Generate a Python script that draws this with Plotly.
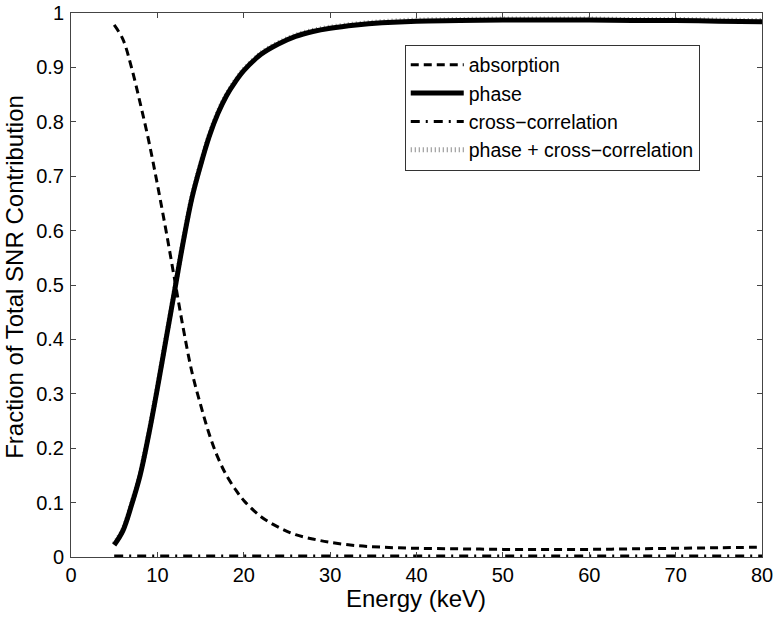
import plotly.graph_objects as go

energy = [5, 6, 7, 8, 9, 10, 11, 12, 13, 14, 15, 16, 17, 18, 19, 20, 22, 24, 26, 28, 30,
          33, 36, 40, 45, 50, 55, 60, 65, 70, 75, 80]
absorption = [0.978, 0.952, 0.900, 0.835, 0.765, 0.685, 0.600, 0.510, 0.420, 0.340, 0.280,
              0.226, 0.183, 0.150, 0.125, 0.104, 0.074, 0.055, 0.041, 0.033, 0.027,
              0.021, 0.018, 0.016, 0.015, 0.014, 0.014, 0.014, 0.015, 0.016, 0.017, 0.018]
phase = [0.022, 0.048, 0.095, 0.150, 0.225, 0.310, 0.400, 0.490, 0.580, 0.660, 0.720,
         0.773, 0.815, 0.848, 0.873, 0.894, 0.924, 0.943, 0.957, 0.966, 0.972,
         0.978, 0.982, 0.985, 0.986, 0.987, 0.987, 0.987, 0.986, 0.986, 0.985, 0.984]
cross_corr = [0.002, 0.002, 0.002, 0.002, 0.002, 0.002, 0.002, 0.002, 0.002, 0.002, 0.002,
              0.002, 0.002, 0.002, 0.002, 0.002, 0.002, 0.002, 0.002, 0.002, 0.002,
              0.002, 0.002, 0.002, 0.002, 0.002, 0.002, 0.002, 0.002, 0.002, 0.002, 0.002]
phase_plus_cc = [p + c for p, c in zip(phase, cross_corr)]

x_ticks = [0, 10, 20, 30, 40, 50, 60, 70, 80]
y_ticks = [0, 0.1, 0.2, 0.3, 0.4, 0.5, 0.6, 0.7, 0.8, 0.9, 1]
y_tick_text = ["0", "0.1", "0.2", "0.3", "0.4", "0.5", "0.6", "0.7", "0.8", "0.9", "1"]
x_title = "Energy (keV)"
y_title = "Fraction of Total SNR Contribution"

FONT = "Liberation Sans, Arial, sans-serif"

fig = go.Figure()
fig.add_trace(go.Scatter(x=energy, y=phase_plus_cc, mode="lines", name="phase + cross\u2212correlation",
                         line=dict(color="#8a8a8a", width=5, dash="1px,3px", shape="spline"),
                         legendrank=4))
fig.add_trace(go.Scatter(x=energy, y=absorption, mode="lines", name="absorption",
                         line=dict(color="black", width=3, dash="8px,5px", shape="spline"),
                         legendrank=1))
fig.add_trace(go.Scatter(x=energy, y=phase, mode="lines", name="phase",
                         line=dict(color="black", width=5, shape="spline"),
                         legendrank=2))
fig.add_trace(go.Scatter(x=energy, y=cross_corr, mode="lines", name="cross\u2212correlation",
                         line=dict(color="black", width=3, dash="9px,6px,2px,6px"),
                         legendrank=3))

fig.update_layout(
    width=779, height=618,
    margin=dict(l=71, r=17, t=13, b=61),
    paper_bgcolor="white", plot_bgcolor="white",
    font=dict(family=FONT, color="black", size=20),
    showlegend=True,
    legend=dict(x=0.483, y=0.942, xanchor="left", yanchor="top",
                bgcolor="white", bordercolor="#333", borderwidth=1,
                font=dict(family=FONT, size=19.5), tracegroupgap=0,
                itemwidth=53),
    annotations=[
        dict(text=x_title, xref="paper", yref="paper", x=0.499, y=-0.0754,
             xanchor="center", yanchor="middle", showarrow=False,
             font=dict(family=FONT, size=24, color="black")),
        dict(text=y_title, xref="paper", yref="paper", x=-0.081, y=0.515,
             xanchor="center", yanchor="middle", showarrow=False, textangle=-90,
             font=dict(family=FONT, size=24, color="black")),
    ],
)
fig.update_xaxes(range=[0, 80], tickvals=x_ticks, ticks="inside", ticklen=5,
                 showline=True, linecolor="#444", linewidth=1, mirror="ticks",
                 showgrid=False, zeroline=False, automargin=False,
                 ticklabeloverflow="allow", ticklabelstandoff=0,
                 tickfont=dict(size=20))
fig.update_yaxes(range=[0, 1], tickvals=y_ticks, ticktext=y_tick_text, ticks="inside", ticklen=5,
                 showline=True, linecolor="#444", linewidth=1, mirror="ticks",
                 showgrid=False, zeroline=False, automargin=False,
                 ticklabeloverflow="allow", ticklabelstandoff=2,
                 tickfont=dict(size=20))

fig.write_html("out.html", config={"displayModeBar": False},
               post_script="document.body.style.margin='0';")
